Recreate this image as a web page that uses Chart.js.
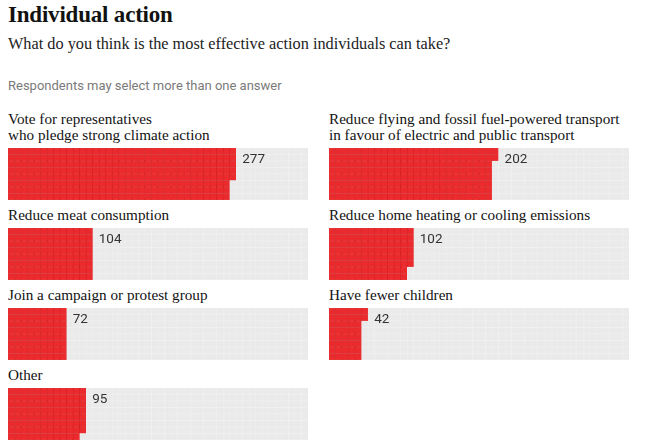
<!DOCTYPE html>
<html>
<head>
<meta charset="utf-8">
<script src="https://cdn.jsdelivr.net/npm/chart.js@4"></script>
<style>
  html, body { margin: 0; padding: 0; background: #fff; }
  body { width: 645px; height: 447px; position: relative; overflow: hidden; }
  .t { position: absolute; white-space: nowrap; }
  #title { left: 8px; top: 3px; font: bold 23px/23px "Liberation Serif", serif; color: #121212; letter-spacing: -0.2px; }
  #sub { left: 8px; top: 36px; font: 16.3px/15px "Liberation Serif", serif; color: #222; }
  #note { left: 8px; top: 79px; font: 13px/13px Roboto, sans-serif; color: #7a7a7a; }
  .lbl { font: 15.2px/16px "Liberation Serif", serif; color: #121212; }
  .panel { position: absolute; width: 300px; height: 52px; }
</style>
</head>
<body>
<div class="t" id="title">Individual action</div>
<div class="t" id="sub">What do you think is the most effective action individuals can take?</div>
<div class="t" id="note">Respondents may select more than one answer</div>
<script>
// data
const categories = [
  "Vote for representatives\nwho pledge strong climate action",
  "Reduce flying and fossil fuel-powered transport\nin favour of electric and public transport",
  "Reduce meat consumption",
  "Reduce home heating or cooling emissions",
  "Join a campaign or protest group",
  "Have fewer children",
  "Other"
];
const responses = [277, 202, 104, 102, 72, 42, 95];

const ROWS = 8;   // cells per column, filled top to bottom
const COLS = 46;  // columns per panel
const RED = "#ea2a2c", RED_LINE = "#d22326";
const GREY = "#eaeaea", GREY_LINE = "#f0f0f0";

const panelTops = [148, 228, 308, 388];

// draws the count just right of the filled top row
const valueLabel = {
  id: "valueLabel",
  afterDatasetsDraw(chart) {
    const v = chart.config.options.plugins.valueLabel.value;
    const x = chart.scales.x;
    const cell = x.getPixelForValue(1) - x.getPixelForValue(0);
    const topCols = Math.ceil(v / ROWS);
    const px = x.getPixelForValue(topCols - 1) + cell / 2 + 6;
    const ctx = chart.ctx;
    ctx.save();
    ctx.font = "13.5px Roboto, sans-serif";
    ctx.fillStyle = "#333";
    ctx.textBaseline = "top";
    ctx.fillText(String(v), px, chart.chartArea.top + 5);
    ctx.restore();
  }
};

categories.forEach((name, i) => {
  const left = i % 2 ? 329 : 8;
  const top = panelTops[Math.floor(i / 2)];
  const lines = name.split("\n");

  const lbl = document.createElement("div");
  lbl.className = "t lbl";
  lbl.innerHTML = lines.join("<br>");
  lbl.style.left = left + "px";
  lbl.style.top = (top - 8 - 13 - (lines.length - 1) * 16) + "px";
  document.body.appendChild(lbl);

  const box = document.createElement("div");
  box.className = "panel";
  box.style.left = left + "px";
  box.style.top = top + "px";
  const cv = document.createElement("canvas");
  box.appendChild(cv);
  document.body.appendChild(box);

  const colLabels = Array.from({ length: COLS }, (_, c) => c);
  // one dataset per row, bottom row first; cell index counts down each column from the top
  const datasets = [];
  for (let r = 0; r < ROWS; r++) {
    const fromTop = ROWS - 1 - r;
    const filled = colLabels.map(c => c * ROWS + fromTop < responses[i]);
    datasets.push({
      data: colLabels.map(() => 1),
      backgroundColor: filled.map(f => f ? RED : GREY),
      borderColor: filled.map(f => f ? RED_LINE : GREY_LINE),
      borderWidth: 0.5,
      borderSkipped: false,
      barPercentage: 1,
      categoryPercentage: 1
    });
  }

  new Chart(cv, {
    type: "bar",
    data: { labels: colLabels, datasets },
    options: {
      responsive: true,
      maintainAspectRatio: false,
      animation: false,
      layout: { padding: 0 },
      events: [],
      plugins: {
        legend: { display: false },
        tooltip: { enabled: false },
        valueLabel: { value: responses[i] }
      },
      scales: {
        x: { stacked: true, display: false },
        y: { stacked: true, display: false, min: 0, max: ROWS }
      }
    },
    plugins: [valueLabel]
  });
});
</script>
</body>
</html>
